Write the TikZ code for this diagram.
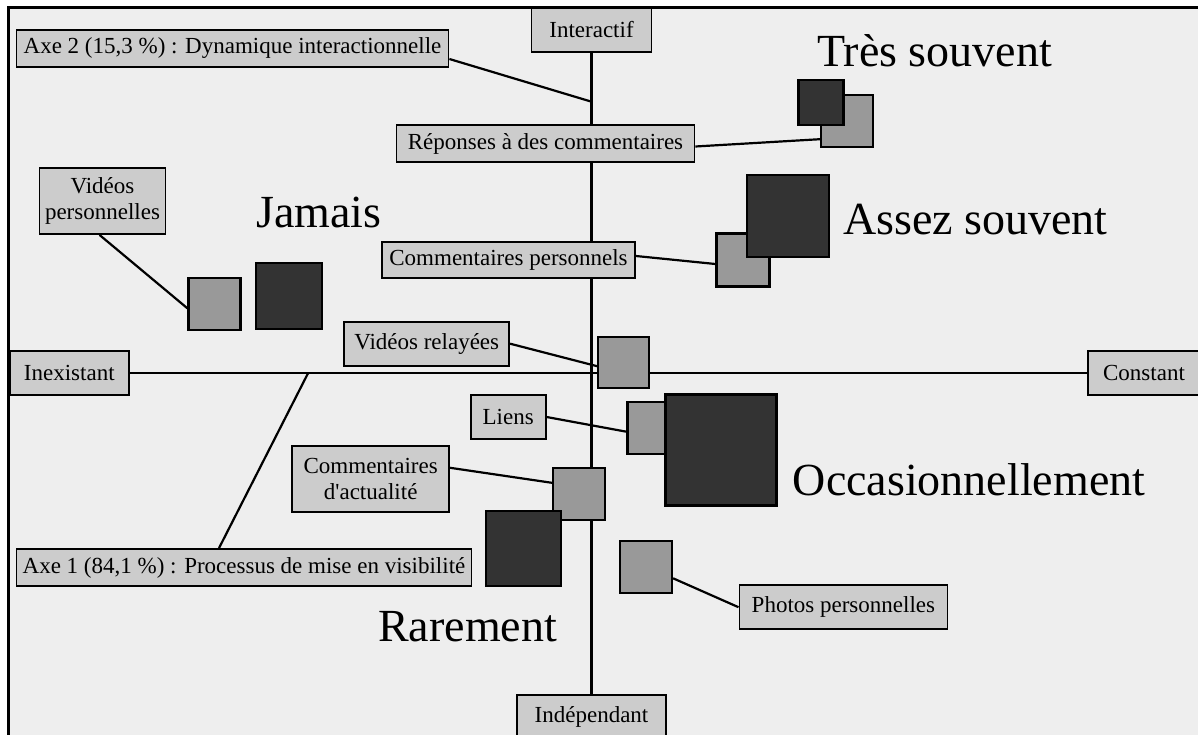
\documentclass[tikz,border=0pt]{standalone}
\usepackage{fontspec}
\setmainfont{Liberation Serif}
\usetikzlibrary{backgrounds}
\definecolor{fond}{HTML}{EEEEEE}
\definecolor{boite}{HTML}{CCCCCC}
\definecolor{grisclair}{HTML}{999999}
\definecolor{grisfonce}{HTML}{333333}

\begin{document}
\begin{tikzpicture}[x=1pt,y=-1pt,
  lbl/.style={draw,line width=1.8pt,fill=boite,inner sep=0pt,align=center,font=\fontsize{23}{26}\selectfont},
  clair/.style={draw,line width=2.2pt,fill=grisclair,inner sep=0pt,minimum size=#1},
  fonce/.style={draw,line width=2.2pt,fill=grisfonce,inner sep=0pt,minimum size=#1},
  freq/.style={anchor=base west,inner sep=0pt,font=\fontsize{46}{50}\selectfont},
  trait/.style={line width=2.2pt}]
\useasboundingbox (0,0) rectangle (1198,735) ;

% axes
\node[lbl,minimum width=120pt,minimum height=44pt] (inter) at (591.5,30) {Interactif} ;
\node[lbl,minimum width=149pt,minimum height=44pt] (indep) at (591.5,717) {Indépendant} ;
\node[lbl,minimum width=119pt,minimum height=44pt] (inex) at (69.3,373.3) {Inexistant} ;
\node[lbl,minimum width=112pt,minimum height=44pt] (const) at (1144,373.3) {Constant} ;
\node[lbl,minimum width=432pt,minimum height=37pt] (axe2) at (232.5,48.5) {Axe 2 (15,3 \%) : Dynamique interactionnelle} ;
\node[lbl,minimum width=455pt,minimum height=37pt] (axe1) at (244,567.5) {Axe 1 (84,1 \%) : Processus de mise en visibilité} ;
\coordinate (p2) at (591.5,101.7) ;
\coordinate (p1) at (308,373.3) ;

% modalites
\node[lbl,minimum width=298pt,minimum height=37pt] (rep) at (545.5,143.5) {Réponses à des commentaires} ;
\node[lbl,minimum width=126pt,minimum height=66pt] (vidp) at (102.5,201) {Vidéos\\personnelles} ;
\node[lbl,minimum width=253pt,minimum height=36pt] (comp) at (508.5,260) {Commentaires personnels} ;
\node[lbl,minimum width=165pt,minimum height=44pt] (vrel) at (426.7,343.7) {Vidéos relayées} ;
\node[lbl,minimum width=75pt,minimum height=44pt] (liens) at (508.2,417) {Liens} ;
\node[lbl,minimum width=157pt,minimum height=66pt] (cact) at (370.7,478.8) {Commentaires\\d\textquotesingle actualité} ;
\node[lbl,minimum width=208pt,minimum height=44pt] (phot) at (843.4,607.2) {Photos personnelles} ;

% carres
\node[clair=52pt] (jmG) at (214.5,303.8) {} ;
\node[fonce=66pt] (jmD) at (289.3,296.2) {} ;
\node[clair=52pt] (tsG) at (847,121.2) {} ;
\node[fonce=45pt] (tsD) at (821,102.7) {} ;
\node[clair=53pt] (asG) at (743,260) {} ;
\node[fonce=82pt] (asD) at (787.8,215.8) {} ;
\node[clair=51pt] (vrG) at (623.7,362.2) {} ;
\node[clair=52pt] (lkG) at (653.5,428.2) {} ;
\node[fonce=111pt] (ocD) at (721,450) {} ;
\node[clair=52pt] (caG) at (579,493.8) {} ;
\node[fonce=75pt] (rmD) at (523.5,548.7) {} ;
\node[clair=52pt] (ppG) at (646,566.7) {} ;

\node[freq] (ts) at (817,67) {Très souvent} ;
\node[freq] (as) at (843,235) {Assez souvent} ;
\node[freq] (jm) at (256,228) {Jamais} ;
\node[freq] (oc) at (792.6,495) {Occasionnellement} ;
\node[freq] (rm) at (378,641.7) {Rarement} ;

\begin{scope}[on background layer]
\fill[fond] (8.5,7.5) rectangle (1215,750) ;
\draw[line width=2.2pt] (8.5,750) -- (8.5,7.5) -- (1215,7.5) ;
\draw[trait] (inter) -- (indep) ;
\draw[trait] (inex) -- (const) ;
\draw[trait] ([yshift=-10.5pt]axe2.east) -- (p2) ;
\draw[trait] ([xshift=-25pt]axe1.north) -- (p1) ;
\draw[trait] ([yshift=-3pt]rep.east) -- ([yshift=-18pt]tsG.west) ;
\draw[trait] ([xshift=-3pt]vidp.south) -- ([yshift=-4.5pt]jmG.west) ;
\draw[trait] ([yshift=4pt]comp.east) -- ([yshift=-4pt]asG.west) ;
\draw[trait] (vrel.east) -- ([yshift=-4pt]vrG.west) ;
\draw[trait] (liens.east) -- ([yshift=-3.5pt]lkG.west) ;
\draw[trait] ([yshift=11pt]cact.east) -- ([yshift=11pt]caG.west) ;
\draw[trait] ([yshift=-11.6pt]ppG.east) -- (phot.west) ;
\end{scope}
\end{tikzpicture}
\end{document}
